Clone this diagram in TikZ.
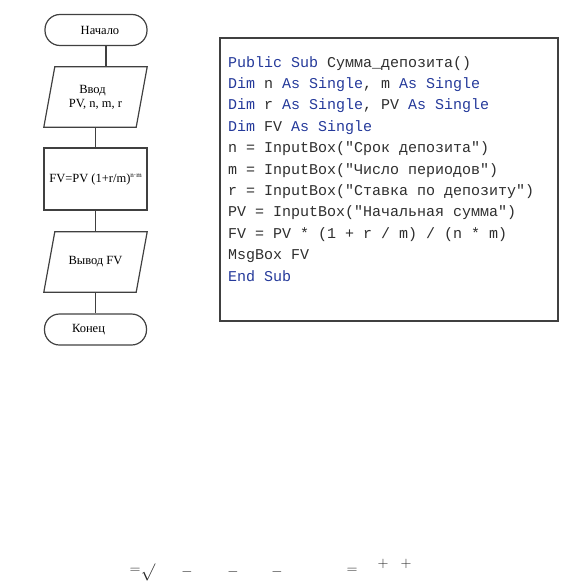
\documentclass[tikz,border=0pt]{standalone}
\usepackage{fontspec}
\setmainfont{Liberation Serif}
\setmonofont{Liberation Mono}
\usepackage{xcolor}
\usetikzlibrary{shapes.geometric,positioning}

\definecolor{vbblue}{HTML}{24399A}
\definecolor{codegray}{HTML}{2E2E2E}
\definecolor{linegray}{HTML}{404040}
\newcommand{\kw}[1]{\textcolor{vbblue}{#1}}

\begin{document}
\begin{tikzpicture}[x=1pt, y=-1pt,
    term/.style={rectangle, rounded corners=15pt, draw=linegray, line width=1.2pt, minimum width=102pt, minimum height=31pt, font=\fontsize{12.5}{14}\selectfont},
    io/.style={rectangle, minimum width=92pt, minimum height=60pt, inner sep=0pt, font=\fontsize{12.5}{14}\selectfont},
    proc/.style={rectangle, draw=linegray, line width=1.2pt, minimum width=103pt, minimum height=62pt, inner sep=0pt, font=\fontsize{12.5}{14}\selectfont},
    flow/.style={draw=linegray, line width=1.2pt},
    codeline/.style={anchor=base west, inner sep=0pt, font=\ttfamily\fontsize{15}{18}\selectfont, text=codegray},
    sym/.style={inner sep=0pt, text=black!85, font=\fontsize{14}{14}\selectfont}
]
\useasboundingbox (0,0) rectangle (576,581);

% Flowchart
\node[term] (start) at (96,30) {\hspace{8pt}Начало};
\node[io, align=center] (in) at (95.5,97) {\hspace{-6pt}Ввод\\PV, n, m, r};
\node[proc] (calc) at (95.5,179) {FV=PV (1+r/m)\raisebox{0.7ex}{\fontsize{7}{7}\selectfont n·m}};
\node[io] (out) at (95.5,262) {Вывод FV};
\node[term] (stop) at (95.5,329.5) {\hspace{-14pt}Конец};

% parallelogram outlines round the io nodes
\foreach \p in {in,out}
  \draw[flow] ([xshift=-5.5pt]\p.south west) -- ([xshift=5.5pt]\p.north west)
    -- ([xshift=5.5pt]\p.north east) -- ([xshift=-5.5pt]\p.south east) -- cycle;

% Arrows
\draw[flow] ([xshift=10pt]start.south) -- ([xshift=10pt]start.south |- in.north);
\draw[flow] (in.south) -- (calc.north);
\draw[flow] (calc.south) -- (out.north);
\draw[flow] (out.south) -- (stop.north);

% Code box
\node[draw=linegray, line width=1.5pt, minimum width=338pt, minimum height=283pt, anchor=north west] (codebox) at (219,37) {};
\foreach \codetext [count=\i from 0] in {
    {\kw{Public Sub} Сумма\_депозита()},
    {\kw{Dim} n \kw{As Single}, m \kw{As Single}},
    {\kw{Dim} r \kw{As Single}, PV \kw{As Single}},
    {\kw{Dim} FV \kw{As Single}},
    {n = InputBox("Срок депозита")},
    {m = InputBox("Число периодов")},
    {r = InputBox("Ставка по депозиту")},
    {PV = InputBox("Начальная сумма")},
    {{FV = PV * (1 + r / m) / (n * m)}},
    {MsgBox FV},
    {\kw{End Sub}}}
  \node[codeline] (line\i) at (228,{67+21.4*\i}) {\codetext};

% Stray formula signs
\node[sym] (eq1) at (135,571) {$=$};
\node[sym, font=\fontsize{16}{16}\selectfont] (root) at (148,572) {$\surd$};
\node[sym] (mn1) at (187,572) {$-$};
\node[sym] (mn2) at (233,572) {$-$};
\node[sym] (mn3) at (277,572) {$-$};
\node[sym] (eq2) at (352,571) {$=$};
\node[sym] (pl1) at (383,564) {$+$};
\node[sym] (pl2) at (406,564) {$+$};

\end{tikzpicture}
\end{document}
